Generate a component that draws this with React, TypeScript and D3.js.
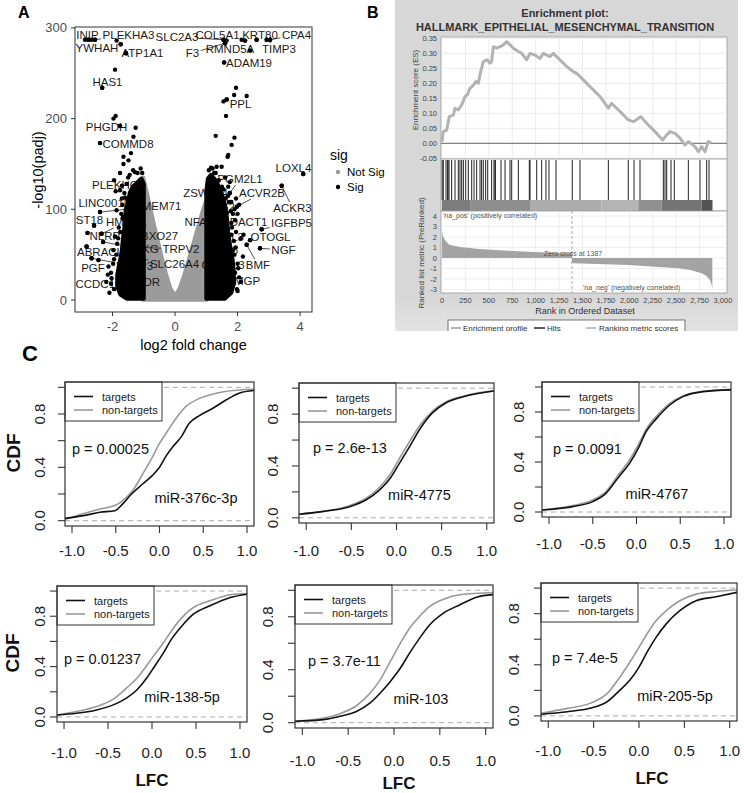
import React from 'react';
import * as d3 from 'd3';

const FONT = "'Liberation Sans', Arial, Helvetica, sans-serif";

// ================= Panel A: volcano data =================
const volcanoXTicks = [-2, 0, 2, 4];
const volcanoYTicks = [0, 100, 200, 300];

// upper envelope of the dense "Not Sig" cloud
const notSigEnvLFC = [-1.02, -0.9, -0.75, -0.6, -0.45, -0.3, -0.15, 0, 0.15, 0.3, 0.45, 0.6, 0.75, 0.9, 1.02];
const notSigEnvLogP = [135, 118, 95, 72, 50, 30, 13, 4.5, 13, 28, 46, 64, 82, 100, 112];

// outline of the dense significant masses
const sigLeftMassLFC = [-1.0, -1.0, -1.08, -1.2, -1.35, -1.45, -1.5, -1.58, -1.6, -1.66, -1.7, -1.78, -1.85, -1.85, -1.75, -1.55];
const sigLeftMassLogP = [1.5, 128, 134, 130, 125, 118, 108, 100, 85, 70, 55, 40, 28, 15, 6, 1.5];
const sigRightMassLFC = [1.0, 1.0, 1.05, 1.15, 1.3, 1.42, 1.52, 1.6, 1.66, 1.7, 1.76, 1.84, 1.88, 1.88, 1.8, 1.6];
const sigRightMassLogP = [1.5, 120, 134, 138, 132, 124, 114, 104, 90, 75, 60, 45, 30, 18, 8, 1.5];

// individual significant points
const sigLFC = [
  -2.88, -2.77, -2.67, -2.56, -1.87, -1.74, -1.57, -1.92, -2.33, -1.97, -1.9, -1.76, -1.26, -1.33, -2.4, -1.65, -1.41, -1.49,
  1.55, 1.65, 1.6, 2.13, 2.24, 2.61, 2.93, 3.04, 2.4, 1.57, 1.95, 1.89, 2.29, 1.55, 1.65, 1.63, 1.3, 1.9, 1.81, 1.68, 1.7, 1.33, 1.49,
  4.1, 3.41, 2.77, 2.4, 2.19, 2.72, 2.29, 2.17,
  -2.03, -2.13, -1.97, -2.05, -1.95, -1.85, -1.8, -1.87, -1.76, -1.76, -1.34, -1.5, -1.9, -1.95, -1.65, -1.28, -1.7, -1.68, -2.2, -1.75, -2.1,
  -2.4, -2.59, -2.35, -2.8, -2.83, -2.3, -2.45, -2.67, -1.3, -1.5, -1.3, -1.1, -1.05, -1.55, -1.2,
  1.3, 1.5, 1.7, 1.8, 1.9, 2.0, 1.95, 2.1, 1.92, 2.0, 1.85, 1.75, 1.15, 2.05, 1.95, 1.6, 2.1, 1.98, 1.8, 1.85, 1.75, 1.98,
  -1.95, -1.88, -1.82, -1.72, -1.68, -1.62, -1.55, -1.45, -1.2, -1.1, -1.05, -2.15, -2.05, -1.98, -1.75, -1.92, -1.66, -1.6, -1.7,
  1.08, 1.2, 1.25, 1.4, 1.55, 1.62, 1.78, 1.82, 1.88, 1.9, 2.02, 2.05, 1.92, 1.7, 2.0, 1.94, 1.72, 1.66, 1.8,
];
const sigLogP = [
  287, 287, 287, 287, 286, 282, 272, 254, 234, 200, 203, 192, 190, 180, 173, 158, 162, 154,
  287, 286, 283, 287, 286, 287, 287, 287, 275, 262, 234, 226, 225, 219, 221, 203, 181, 179, 171, 158, 160, 147, 147,
  139, 126, 78, 66, 72, 57, 61, 48,
  24, 37, 55, 30, 12, 62, 80, 99, 121, 140, 143, 135, 120, 132, 150, 141, 112, 90, 20, 28, 8,
  97, 82, 73, 74, 59, 64, 44, 46, 120, 110, 65, 58, 45, 25, 15,
  140, 125, 115, 108, 100, 95, 75, 68, 30, 40, 55, 130, 146, 105, 112, 135, 20, 12, 85, 20, 118, 103,
  45, 50, 68, 95, 105, 118, 128, 138, 140, 145, 140, 28, 18, 40, 75, 70, 92, 113, 126,
  143, 145, 140, 132, 122, 112, 98, 80, 65, 50, 35, 25, 88, 125, 10, 58, 108, 96, 72,
];

// labelled genes (point in data units)
const geneNames = ['INIP', 'PLEKHA3', 'YWHAH', 'ATP1A1', 'SLC2A3', 'COL5A1', 'KRT80', 'CPA4', 'TIMP3', 'F3', 'RMND5A', 'ADAM19',
  'HAS1', 'PPL', 'PHGDH', 'COMMD8', 'LOXL4', 'ACKR3', 'IGFBP5', 'OTOGL', 'NGF', 'BMF', 'DACT1', 'MGP', 'PGM2L1', 'ACVR2B',
  'ZSWIM4', 'EFG2', 'NFATC2', 'EML3', 'ITGA6', 'GATSL3', 'PLEKHG3', 'LINC00152', 'TMEM71', 'ST18', 'HMCN1', 'NLRP1', 'FBXO27',
  'ABRACL', 'IKBKG', 'TRPV2', 'SLC26A4', 'PGF', 'NLRP3', 'CCDC102B', 'KDR'];
const geneLFC = [-2.77, -2.56, -1.74, -1.57, 1.55, 2.24, 2.61, 3.04, 2.93, 1.6, 2.4, 1.57,
  -2.33, 1.65, -1.76, -2.4, 4.1, 3.41, 2.77, 2.4, 2.72, 2.29, 1.85, 1.85, 1.75, 1.98,
  1.5, 1.2, 1.1, 1.4, 1.3, 1.2, -1.3, -1.5, -2.4, -2.59, -2.35, -2.8, -1.3,
  -2.83, -2.3, -1.1, -1.05, -2.45, -2.67, -1.55, -1.2];
const geneLogP = [287, 287, 282, 272, 287, 286, 287, 287, 287, 283, 275, 262,
  234, 221, 192, 173, 139, 126, 78, 66, 57, 61, 95, 20, 118, 103,
  105, 85, 80, 60, 50, 32, 120, 110, 97, 82, 73, 74, 65,
  59, 64, 58, 45, 44, 46, 25, 15];

// label layout (pixel centres, as placed by the repel layout)
const geneLabelPx = [[87.5, 35], [128.5, 35], [97, 48], [142.5, 53], [177, 37], [217.5, 35], [260, 35], [296.5, 35], [279, 49], [192.5, 53], [230, 49], [249, 63],
  [107.5, 82], [240.5, 104], [106.5, 127], [128, 144], [293.5, 168], [292.5, 208], [291.5, 222.7], [270.5, 236.7], [283.5, 250], [258, 265], [248.5, 221.7], [247, 280.7], [240, 179], [262, 193],
  [205.5, 193], [220, 207], [206, 222], [229, 237], [221.5, 250], [223, 265], [118.5, 185], [107.5, 203], [158, 206], [89.5, 220], [126.5, 222], [108, 236], [156, 236],
  [100, 252], [141, 249], [181, 249], [174.5, 264], [93, 268], [134.5, 266], [105.5, 284], [148, 282]];

// ================= Panel B: GSEA data =================
const esRank = [0, 14, 50, 78, 121, 139, 174, 210, 246, 270, 299, 335, 363, 388, 413, 441, 484, 512, 530, 548, 584, 619, 655, 690, 726, 762, 815, 851, 904, 940, 993, 1046, 1082, 1118, 1153, 1189, 1224, 1331, 1402, 1438, 1491, 1580, 1687, 1776, 1811, 1901, 1989, 2043, 2096, 2121, 2185, 2292, 2356, 2399, 2434, 2488, 2541, 2595, 2630, 2701, 2737, 2772, 2808, 2843, 2879];
const esScore = [0.005, 0.039, 0.044, 0.089, 0.094, 0.117, 0.111, 0.128, 0.156, 0.161, 0.183, 0.194, 0.206, 0.2, 0.239, 0.272, 0.278, 0.267, 0.272, 0.322, 0.317, 0.322, 0.328, 0.339, 0.328, 0.317, 0.306, 0.3, 0.278, 0.3, 0.294, 0.283, 0.3, 0.294, 0.289, 0.3, 0.289, 0.256, 0.239, 0.233, 0.217, 0.189, 0.156, 0.117, 0.133, 0.106, 0.078, 0.072, 0.083, 0.089, 0.067, 0.033, 0.011, 0.028, 0.039, 0.033, 0.017, -0.006, 0.006, -0.011, -0.028, -0.011, -0.028, 0.006, 0.0];
const hitRanks = [2, 14, 43, 60, 64, 75, 103, 139, 174, 192, 210, 228, 253, 281, 317, 342, 370, 406, 423, 441, 466, 488, 530, 555, 566, 570, 630, 673, 726, 744, 815, 932, 940, 1011, 1064, 1110, 1142, 1217, 1391, 1473, 1776, 1989, 2050, 2114, 2363, 2381, 2399, 2445, 2480, 2630, 2754, 2826, 2851];
const metricRank = [0, 10, 32, 60, 85, 210, 400, 566, 922, 1386, 1387, 1402, 1989, 2523, 2650, 2772, 2820, 2861, 2880, 2886];
const metricValue = [2.5, 2.1, 1.71, 1.4, 1.24, 1.02, 0.85, 0.76, 0.6, 0.44, -0.45, -0.5, -0.67, -0.98, -1.15, -1.46, -1.7, -2.1, -2.6, -3.05];
const esTicks = [-0.05, 0, 0.05, 0.1, 0.15, 0.2, 0.25, 0.3, 0.35];
const metricTicks = [-3, -2, -1, 0, 1, 2, 3, 4];
const rankTicks = [0, 250, 500, 750, 1000, 1250, 1500, 1750, 2000, 2250, 2500, 2750, 3000];
const zeroCross = 1387;
const barSegStart = [0, 300, 940, 1700, 2096, 2345, 2772];
const barSegEnd = [300, 940, 1700, 2096, 2345, 2772, 2888];

// ================= Panel C: CDF data =================
const mirNames = ['miR-376c-3p', 'miR-4775', 'miR-4767', 'miR-138-5p', 'miR-103', 'miR-205-5p'];
const pLabels = ['p = 0.00025', 'p = 2.6e-13', 'p = 0.0091', 'p = 0.01237', 'p = 3.7e-11', 'p = 7.4e-5'];
const cdfXTicks = [-1, -0.5, 0, 0.5, 1];
const cdfYTicks = [0, 0.2, 0.4, 0.6, 0.8, 1];
const cdfYLabelled = [0, 0.4, 0.8];

const targetLFC = [
  [-1.08, -0.87, -0.68, -0.51, -0.42, -0.32, -0.19, -0.08, 0, 0.08, 0.15, 0.25, 0.34, 0.46, 0.61, 0.76, 0.91, 1.08],
  [-1.08, -0.82, -0.52, -0.34, -0.19, -0.06, 0.03, 0.14, 0.27, 0.4, 0.55, 0.77, 1.08],
  [-1.08, -0.73, -0.5, -0.35, -0.2, -0.08, 0.02, 0.11, 0.23, 0.38, 0.53, 0.76, 1.08],
  [-1.08, -0.86, -0.63, -0.44, -0.29, -0.17, -0.06, 0.03, 0.13, 0.22, 0.34, 0.47, 0.66, 0.89, 1.08],
  [-1.08, -0.77, -0.59, -0.41, -0.26, -0.15, -0.04, 0.07, 0.17, 0.28, 0.39, 0.54, 0.72, 0.9, 1.08],
  [-1.08, -0.79, -0.54, -0.35, -0.21, -0.1, -0.01, 0.1, 0.19, 0.3, 0.45, 0.63, 0.85, 1.08],
];
const targetCDF = [
  [0.017, 0.038, 0.063, 0.075, 0.126, 0.2, 0.277, 0.34, 0.4, 0.49, 0.553, 0.63, 0.73, 0.79, 0.843, 0.905, 0.956, 0.976],
  [0.028, 0.048, 0.086, 0.137, 0.214, 0.315, 0.418, 0.544, 0.697, 0.811, 0.888, 0.939, 0.978],
  [0.016, 0.043, 0.083, 0.149, 0.283, 0.389, 0.509, 0.643, 0.749, 0.856, 0.923, 0.963, 0.977],
  [0.016, 0.029, 0.056, 0.096, 0.149, 0.216, 0.309, 0.403, 0.509, 0.616, 0.723, 0.816, 0.883, 0.949, 0.975],
  [0.011, 0.023, 0.048, 0.085, 0.149, 0.224, 0.312, 0.413, 0.526, 0.639, 0.74, 0.828, 0.891, 0.948, 0.967],
  [0.013, 0.033, 0.059, 0.111, 0.202, 0.28, 0.37, 0.513, 0.616, 0.72, 0.823, 0.901, 0.932, 0.967],
];
const nonTargetLFC = [
  [-1.08, -0.91, -0.68, -0.51, -0.42, -0.3, -0.19, -0.09, 0, 0.1, 0.19, 0.3, 0.46, 0.65, 0.84, 1.08],
  [-1.08, -0.82, -0.52, -0.34, -0.19, -0.06, 0.03, 0.14, 0.27, 0.4, 0.55, 0.77, 1.08],
  [-1.08, -0.73, -0.5, -0.35, -0.2, -0.08, 0.02, 0.11, 0.23, 0.38, 0.53, 0.76, 1.08],
  [-1.08, -0.86, -0.63, -0.44, -0.29, -0.17, -0.06, 0.03, 0.13, 0.22, 0.34, 0.47, 0.66, 0.89, 1.08],
  [-1.08, -0.77, -0.59, -0.41, -0.26, -0.15, -0.04, 0.07, 0.17, 0.28, 0.39, 0.54, 0.72, 1.08],
  [-1.08, -0.79, -0.54, -0.35, -0.21, -0.1, -0.01, 0.1, 0.19, 0.3, 0.45, 0.63, 0.85, 1.08],
];
const nonTargetCDF = [
  [0.01, 0.045, 0.088, 0.113, 0.151, 0.232, 0.352, 0.466, 0.579, 0.68, 0.768, 0.855, 0.918, 0.956, 0.976, 0.986],
  [0.028, 0.05, 0.094, 0.15, 0.234, 0.346, 0.455, 0.583, 0.723, 0.824, 0.896, 0.944, 0.981],
  [0.016, 0.051, 0.096, 0.163, 0.304, 0.416, 0.536, 0.661, 0.768, 0.869, 0.928, 0.965, 0.981],
  [0.016, 0.043, 0.083, 0.141, 0.229, 0.309, 0.408, 0.496, 0.589, 0.683, 0.789, 0.869, 0.923, 0.971, 0.98],
  [0.011, 0.035, 0.068, 0.128, 0.224, 0.325, 0.463, 0.601, 0.714, 0.803, 0.878, 0.933, 0.966, 0.981],
  [0.021, 0.059, 0.098, 0.176, 0.305, 0.422, 0.525, 0.655, 0.746, 0.823, 0.901, 0.953, 0.974, 0.985],
];

// ================= layout =================
const cdfBoxes = [
  { L: 65, R: 254, T: 382, B: 526, yLab: 26, xLab: 24 },
  { L: 299, R: 494, T: 383, B: 523, yLab: 27, xLab: 27 },
  { L: 542, R: 731, T: 382, B: 517, yLab: 24, xLab: 26 },
  { L: 57, R: 247, T: 586, B: 722, yLab: 18, xLab: 30 },
  { L: 295, R: 493, T: 585, B: 728, yLab: 28, xLab: 32 },
  { L: 541, R: 737, T: 583, B: 721, yLab: 28, xLab: 29 },
];
const pPos = [[72, 449], [313, 448], [553, 449], [64, 659], [308, 661], [552, 658]];
const mirPos = [[196, 498], [419.5, 495], [657, 494], [182, 697], [421, 699], [675, 696]];
const barShades = ['#7c7c7c', '#8e8e8e', '#acacac', '#b4b4b4', '#8f8f8f', '#747474', '#525252'];

const hy = (s: string) => s.replace(/\u2212/g, '-');

let _ctx: any = null;
function textWidth(t: string, font: string) {
  if (!_ctx) _ctx = document.createElement('canvas').getContext('2d');
  _ctx.font = font;
  return _ctx.measureText(t).width;
}

function Volcano() {
  const x = d3.scaleLinear().domain([-3.2, 4.38]).range([75, 312]);
  const y = d3.scaleLinear().domain([-13.2, 301]).range([312, 27]);
  const line = d3.line<[number, number]>().x(d => x(d[0])).y(d => y(d[1]));
  const env: [number, number][] = notSigEnvLFC.map((v, i) => [v, notSigEnvLogP[i]]);
  const grayPoly: [number, number][] = [[notSigEnvLFC[0], 0.4], ...env, [notSigEnvLFC[notSigEnvLFC.length - 1], 0.4]];
  const leftPoly: [number, number][] = sigLeftMassLFC.map((v, i) => [v, sigLeftMassLogP[i]]);
  const rightPoly: [number, number][] = sigRightMassLFC.map((v, i) => [v, sigRightMassLogP[i]]);
  const labFont = `11.5px 'Liberation Sans'`;
  return (
    <g>
      <rect x={75} y={27} width={237} height={285} fill="#fff" stroke="#333" strokeWidth={1} />
      <path d={line(grayPoly) + 'Z'} fill="#9b9b9b" stroke="#9b9b9b" strokeWidth={4} strokeLinejoin="round" />
      {geneNames.map((g, i) => {
        const px = x(geneLFC[i]), py = y(geneLogP[i]);
        const [cx, cy] = geneLabelPx[i];
        const hw = textWidth(g, labFont) / 2 + 1.5, hh = 6;
        const dx = px - cx, dy = py - cy;
        let seg = null;
        if (!(Math.abs(dx) <= hw && Math.abs(dy) <= hh)) {
          const t = Math.min(dx !== 0 ? hw / Math.abs(dx) : Infinity, dy !== 0 ? hh / Math.abs(dy) : Infinity);
          const ex = cx + dx * t, ey = cy + dy * t;
          if (Math.hypot(px - ex, py - ey) > 4) seg = <line x1={px} y1={py} x2={ex} y2={ey} stroke="#222" strokeWidth={0.8} />;
        }
        return (
          <g key={g}>
            {seg}
            <text x={cx} y={cy} textAnchor="middle" dominantBaseline="central" fontSize={11.5} fill="#1a1a1a">{g}</text>
          </g>
        );
      })}
      <path d={line(leftPoly) + 'Z'} fill="#000" stroke="#000" strokeWidth={4} strokeLinejoin="round" />
      <path d={line(rightPoly) + 'Z'} fill="#000" stroke="#000" strokeWidth={4} strokeLinejoin="round" />
      {sigLFC.map((v, i) => <circle key={'s' + i} cx={x(v)} cy={y(sigLogP[i])} r={2.2} fill="#000" />)}
      {geneLFC.map((v, i) => <circle key={'g' + i} cx={x(v)} cy={y(geneLogP[i])} r={2.2} fill="#000" />)}
      {volcanoXTicks.map(t => (
        <g key={'xt' + t}>
          <line x1={x(t)} x2={x(t)} y1={312} y2={316} stroke="#333" />
          <text x={x(t)} y={331} textAnchor="middle" fontSize={13} fill="#4d4d4d">{hy(String(t))}</text>
        </g>
      ))}
      {volcanoYTicks.map(t => (
        <g key={'yt' + t}>
          <line x1={71} x2={75} y1={y(t)} y2={y(t)} stroke="#333" />
          <text x={67} y={y(t)} textAnchor="end" dominantBaseline="central" fontSize={13} fill="#4d4d4d">{t}</text>
        </g>
      ))}
      <text x={193.5} y={350} textAnchor="middle" fontSize={14.5} fill="#000">log2 fold change</text>
      <text transform="translate(43,170) rotate(-90)" textAnchor="middle" fontSize={14.5} fill="#000">-log10(padj)</text>
      <text x={330} y={160} fontSize={14} fill="#000">sig</text>
      <circle cx={338} cy={172} r={2.2} fill="#9b9b9b" />
      <text x={347} y={172} dominantBaseline="central" fontSize={11.5} fill="#000">Not Sig</text>
      <circle cx={338} cy={187} r={2.2} fill="#000" />
      <text x={347} y={187} dominantBaseline="central" fontSize={11.5} fill="#000">Sig</text>
    </g>
  );
}

function Gsea() {
  const xr = d3.scaleLinear().domain([0, 3000]).range([442, 723]);
  const yes = d3.scaleLinear().domain([-0.05, 0.35]).range([158.3, 38.3]);
  const ym = d3.scaleLinear().domain([-3, 4]).range([289.5, 216]);
  const esLine = d3.line<number>().x((_, i) => xr(esRank[i])).y(d => yes(d));
  const mArea = d3.area<number>().x((_, i) => xr(metricRank[i])).y0(ym(0)).y1(d => ym(d));
  const f2 = d3.format('.2f');
  const fc = d3.format(',');
  const L = 441, R = 727;
  return (
    <g clipPath="url(#clipB)">
      <defs>
        <linearGradient id="bgB" x1="0" y1="0" x2="0" y2="1">
          <stop offset="0" stopColor="#d7d7d7" />
          <stop offset="0.9" stopColor="#d7d7d7" />
          <stop offset="1" stopColor="#e4e4e4" />
        </linearGradient>
      </defs>
      <rect x={395} y={0} width={343} height={332} fill="url(#bgB)" />
      <text x={565} y={13} textAnchor="middle" dominantBaseline="central" fontSize={11} fontWeight="bold" fill="#333">Enrichment plot:</text>
      <text x={565} y={27} textAnchor="middle" dominantBaseline="central" fontSize={11} fontWeight="bold" fill="#333">HALLMARK_EPITHELIAL_MESENCHYMAL_TRANSITION</text>
      <rect x={L} y={37} width={R - L} height={122} fill="#fff" stroke="#999" strokeWidth={0.8} />
      {esTicks.map(t => <line key={'eg' + t} x1={L} x2={R} y1={yes(t)} y2={yes(t)} stroke="#e3e3e3" strokeWidth={0.7} />)}
      {rankTicks.slice(1, -1).map(t => <line key={'vg' + t} x1={xr(t)} x2={xr(t)} y1={37} y2={159} stroke="#e3e3e3" strokeWidth={0.7} />)}
      <line x1={L} x2={R} y1={yes(0)} y2={yes(0)} stroke="#444" strokeWidth={0.8} />
      <path d={esLine(esScore) || ''} fill="none" stroke="#b3b3b3" strokeWidth={3} strokeLinejoin="round" />
      {esTicks.map(t => (
        <text key={'et' + t} x={437} y={yes(t)} textAnchor="end" dominantBaseline="central" fontSize={7.5} fill="#444">{hy(f2(t))}</text>
      ))}
      <text transform="translate(415,90) rotate(-90)" textAnchor="middle" dominantBaseline="central" fontSize={8} fill="#444">Enrichment score (ES)</text>
      <rect x={L} y={159} width={R - L} height={52} fill="#fff" stroke="#999" strokeWidth={0.8} />
      {hitRanks.map((r, i) => <line key={'h' + i} x1={xr(r)} x2={xr(r)} y1={160} y2={200} stroke="#222" strokeWidth={1} />)}
      {barSegStart.map((s, i) => (
        <rect key={'b' + i} x={xr(s)} y={200} width={xr(barSegEnd[i]) - xr(s)} height={11} fill={barShades[i]} />
      ))}
      <rect x={L} y={211} width={R - L} height={82} fill="#fff" stroke="#999" strokeWidth={0.8} />
      {metricTicks.map(t => <line key={'mg' + t} x1={L} x2={R} y1={ym(t)} y2={ym(t)} stroke="#e6e6e6" strokeWidth={0.7} />)}
      {rankTicks.slice(1, -1).map(t => <line key={'mv' + t} x1={xr(t)} x2={xr(t)} y1={211} y2={293} stroke="#e6e6e6" strokeWidth={0.7} />)}
      <path d={mArea(metricValue) || ''} fill="#a3a3a3" />
      <line x1={xr(zeroCross)} x2={xr(zeroCross)} y1={211} y2={293} stroke="#999" strokeWidth={0.8} strokeDasharray="3,2" />
      {metricTicks.map(t => (
        <text key={'mt' + t} x={437} y={ym(t)} textAnchor="end" dominantBaseline="central" fontSize={7.5} fill="#444">{hy(String(t))}</text>
      ))}
      <text x={443} y={215} dominantBaseline="central" fontSize={7} fill="#555">'na_pos' (positively correlated)</text>
      <text x={573} y={253} textAnchor="middle" dominantBaseline="central" fontSize={7} fill="#555">Zero cross at 1387</text>
      <text x={583} y={287} dominantBaseline="central" fontSize={7} fill="#555">'na_neg' (negatively correlated)</text>
      <text transform="translate(421,253) rotate(-90)" textAnchor="middle" dominantBaseline="central" fontSize={8} fill="#444">Ranked list metric (PreRanked)</text>
      {rankTicks.map(t => (
        <text key={'rt' + t} x={xr(t)} y={300} textAnchor="middle" dominantBaseline="central" fontSize={7.5} fill="#444">{fc(t)}</text>
      ))}
      <text x={585} y={311} textAnchor="middle" dominantBaseline="central" fontSize={9} fill="#333">Rank in Ordered Dataset</text>
      <rect x={448} y={320} width={237} height={16} fill="#fff" stroke="#555" strokeWidth={0.8} />
      <line x1={451} x2={461} y1={328} y2={328} stroke="#b3b3b3" strokeWidth={2} />
      <text x={463} y={328} dominantBaseline="central" fontSize={8} fill="#333">Enrichment profile</text>
      <line x1={534} x2={545} y1={328} y2={328} stroke="#222" strokeWidth={1.5} />
      <text x={547} y={328} dominantBaseline="central" fontSize={8} fill="#333">Hits</text>
      <line x1={586} x2={596} y1={328} y2={328} stroke="#aaa" strokeWidth={1.5} />
      <text x={599} y={328} dominantBaseline="central" fontSize={8} fill="#333">Ranking metric scores</text>
    </g>
  );
}

function CdfPanel({ i }: { i: number }) {
  const b = cdfBoxes[i];
  const x = d3.scaleLinear().domain([-1.08, 1.08]).range([b.L, b.R]);
  const y = d3.scaleLinear().domain([-0.04, 1.04]).range([b.B, b.T]);
  const f1 = d3.format('.1f');
  const mk = (xs: number[], ys: number[]) =>
    d3.line<number>().x((_, k) => x(xs[k])).y(d => y(d)).curve(d3.curveMonotoneX)(ys) || '';
  const lw = 97, lh = 39;
  return (
    <g>
      <defs>
        <clipPath id={'cp' + i}><rect x={b.L} y={b.T} width={b.R - b.L} height={b.B - b.T} /></clipPath>
      </defs>
      <g clipPath={`url(#cp${i})`}>
        <line x1={b.L} x2={b.R} y1={y(0)} y2={y(0)} stroke="#aaa" strokeWidth={1} strokeDasharray="5,4" />
        <line x1={b.L} x2={b.R} y1={y(1)} y2={y(1)} stroke="#aaa" strokeWidth={1} strokeDasharray="5,4" />
        <path d={mk(nonTargetLFC[i], nonTargetCDF[i])} fill="none" stroke="#999" strokeWidth={1.6} />
        <path d={mk(targetLFC[i], targetCDF[i])} fill="none" stroke="#111" strokeWidth={1.6} />
      </g>
      <rect x={b.L} y={b.T} width={lw} height={lh} fill="#fff" stroke="#333" strokeWidth={1} />
      <line x1={b.L + 9} x2={b.L + 28} y1={b.T + 14.5} y2={b.T + 14.5} stroke="#111" strokeWidth={1.6} />
      <text x={b.L + 37} y={b.T + 14.5} dominantBaseline="central" fontSize={11} fill="#222">targets</text>
      <line x1={b.L + 9} x2={b.L + 28} y1={b.T + 28} y2={b.T + 28} stroke="#999" strokeWidth={1.6} />
      <text x={b.L + 37} y={b.T + 28} dominantBaseline="central" fontSize={11} fill="#222">non-targets</text>
      <rect x={b.L} y={b.T} width={b.R - b.L} height={b.B - b.T} fill="none" stroke="#333" strokeWidth={1.2} />
      <text x={pPos[i][0]} y={pPos[i][1]} dominantBaseline="central" fontSize={14.5} fill="#111">{pLabels[i]}</text>
      <text x={mirPos[i][0]} y={mirPos[i][1]} textAnchor="middle" dominantBaseline="central" fontSize={14.5} fill="#111">{mirNames[i]}</text>
      {cdfXTicks.map(t => (
        <g key={'x' + t}>
          <line x1={x(t)} x2={x(t)} y1={b.B} y2={b.B + 7} stroke="#333" strokeWidth={1.1} />
          <text x={x(t)} y={b.B + b.xLab} textAnchor="middle" dominantBaseline="central" fontSize={15} fill="#222">{hy(f1(t))}</text>
        </g>
      ))}
      {cdfYTicks.map(t => (
        <line key={'y' + t} x1={b.L - 7} x2={b.L} y1={y(t)} y2={y(t)} stroke="#333" strokeWidth={1.1} />
      ))}
      {cdfYLabelled.map(t => (
        <text key={'yl' + t} transform={`translate(${b.L - b.yLab},${y(t)}) rotate(-90)`} textAnchor="middle" dominantBaseline="central" fontSize={15} fill="#222">{f1(t)}</text>
      ))}
    </g>
  );
}

export default function App() {
  return (
    <div style={{ position: 'absolute', left: 0, top: 0, width: 744, height: 793, background: '#fff' }}>
      <svg width={744} height={793} style={{ display: 'block', fontFamily: FONT }}>
        <defs>
          <clipPath id="clipB"><rect x={395} y={0} width={343} height={331} /></clipPath>
        </defs>
        <Volcano />
        <Gsea />
        {mirNames.map((_, i) => <CdfPanel key={i} i={i} />)}
        <text transform="translate(13,453) rotate(-90)" textAnchor="middle" dominantBaseline="central" fontSize={19} fontWeight="bold" fill="#111">CDF</text>
        <text transform="translate(12.5,653) rotate(-90)" textAnchor="middle" dominantBaseline="central" fontSize={19} fontWeight="bold" fill="#111">CDF</text>
        <text x={152} y={780} textAnchor="middle" dominantBaseline="central" fontSize={17} fontWeight="bold" fill="#111">LFC</text>
        <text x={399} y={783} textAnchor="middle" dominantBaseline="central" fontSize={17} fontWeight="bold" fill="#111">LFC</text>
        <text x={652} y={778} textAnchor="middle" dominantBaseline="central" fontSize={17} fontWeight="bold" fill="#111">LFC</text>
        <text x={18} y={18} fontSize={16} fontWeight="bold" fill="#000">A</text>
        <text x={367} y={18} fontSize={16} fontWeight="bold" fill="#000">B</text>
        <text x={22} y={361} fontSize={22} fontWeight="bold" fill="#000">C</text>
      </svg>
    </div>
  );
}
